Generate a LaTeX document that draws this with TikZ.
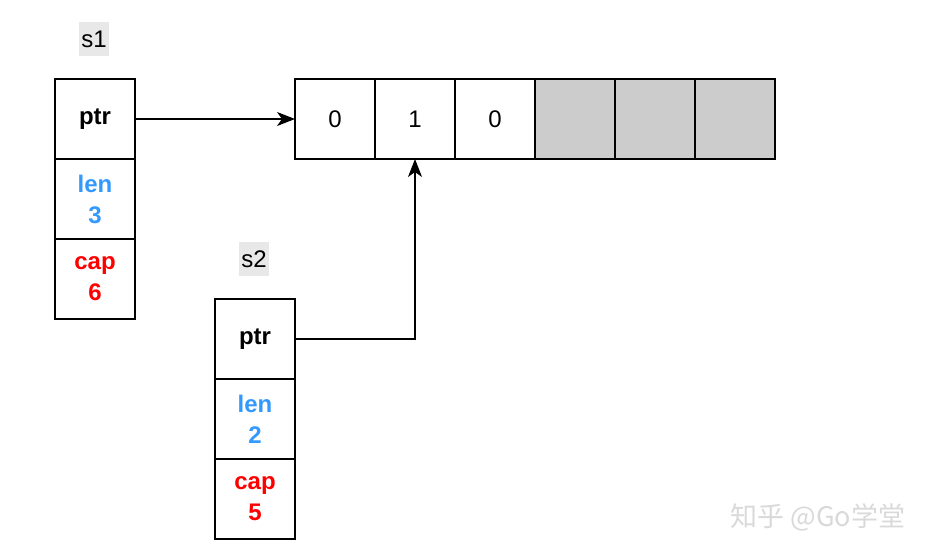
\documentclass[tikz,border=0pt]{standalone}
\usepackage{fontspec}
\setmainfont{Liberation Sans}
\newfontfamily\cjkfont{Noto Sans CJK SC}
\usetikzlibrary{positioning,arrows.meta}
\definecolor{len blue}{HTML}{3399FF}
\definecolor{cap red}{HTML}{FF0000}
\definecolor{slot gray}{HTML}{CCCCCC}
\definecolor{tag gray}{HTML}{E8E8E8}
\definecolor{mark gray}{HTML}{D9D9D9}

\tikzset{
	field/.style = {draw, line width = 1.3pt, minimum width = 80pt, minimum height = 80pt,
		inner sep = 0pt, outer sep = 0pt, align = center,
		font = \fontsize{24}{31}\selectfont\bfseries},
	slot/.style = {field, font = \fontsize{24}{28}\selectfont},
	tag/.style = {fill = tag gray, minimum height = 34pt, inner sep = 2pt,
		font = \fontsize{24}{28}\selectfont},
	link/.style = {line width = 1.2pt, -{Stealth[length = 18pt, width = 14pt, inset = 5pt]}}
}

\begin{document}
\begin{tikzpicture}[x = 1pt, y = -1pt]
	\useasboundingbox (0, 0) rectangle (934, 554);
	% slice header s1
	\node[tag] (s1) at (94, 39) {s1};
	\node[field] (s1ptr) at (95, 119) {ptr};
	\node[field, text = len blue, below = 0pt of s1ptr] (s1len) {len\\3};
	\node[field, text = cap red, below = 0pt of s1len] (s1cap) {cap\\6};
	% slice header s2
	\node[tag] (s2) at (254, 259) {s2};
	\node[field] (s2ptr) at (255, 339) {ptr};
	\node[field, text = len blue, below = 0pt of s2ptr] (s2len) {len\\2};
	\node[field, text = cap red, below = 0pt of s2len] (s2cap) {cap\\5};
	% underlying array
	\foreach \val [count = \i] in {0, 1, 0} {
		\node[slot] (a\i) at (335 + 80*\i - 80, 119) {\val};
	}
	\foreach \i in {4, 5, 6} {
		\node[slot, fill = slot gray] (a\i) at (335 + 80*\i - 80, 119) {};
	}
	% pointers
	\draw[link] (s1ptr.east) -- (a1.west);
	\draw[link] (s2ptr.east) -| (a2.south);
	% watermark
	\node[text = mark gray, font = \cjkfont\fontsize{27}{30}\selectfont] (mark) at (818, 517) {知乎 @Go学堂};
\end{tikzpicture}
\end{document}
